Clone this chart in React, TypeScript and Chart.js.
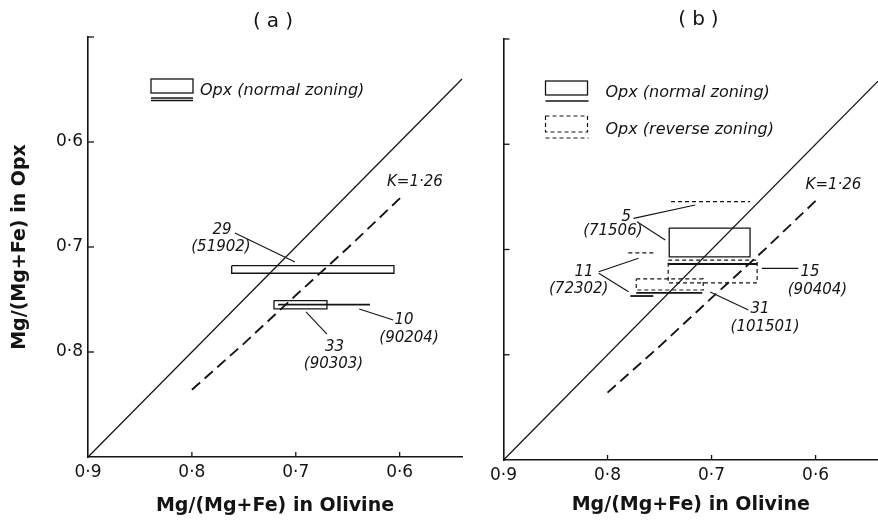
import React, { useEffect, useRef } from 'react';
import { Chart, registerables } from 'chart.js';

Chart.register(...registerables);

type P = [number, number];
type Box = [number, number, number, number]; // x1, x2, y1, y2
type Label = { text: string; x: number; y: number };

const INK = '#141414';
const FONT = '"DejaVu Sans", "Liberation Sans", sans-serif';

// ---- axes ----
const X_TICKS = [0.9, 0.8, 0.7, 0.6];
const X_TICK_LABELS = ['0·9', '0·8', '0·7', '0·6'];
const Y_TICKS = [0.6, 0.7, 0.8];
const Y_TICK_LABELS = ['0·6', '0·7', '0·8'];
const Y_TICK_MARKS = [0.5, 0.6, 0.7, 0.8];
const X_TITLE = 'Mg/(Mg+Fe) in Olivine';
const Y_TITLE = 'Mg/(Mg+Fe) in Opx';

// ---- reference lines ----
const ONE_TO_ONE: P[] = [[0.9, 0.9], [0.54, 0.54]];
const K_LINE: P[] = [[0.8, 0.836], [0.75, 0.792], [0.7, 0.746], [0.65, 0.701], [0.596, 0.65]];
const K_LABEL = 'K=1·26';

// ---- panel (a) ----
const A_NORMAL_BOXES: Box[] = [
  [0.7617, 0.6055, 0.7178, 0.725], // 29 (51902)
  [0.721, 0.67, 0.751, 0.759], // 33 (90303)
];
const A_NORMAL_LINES: Box[] = [
  [0.7171, 0.6286, 0.7548, 0.7548], // 10 (90204)
];
const A_LEADERS: [P, P][] = [
  [[0.7585, 0.6867], [0.7008, 0.7143]],
  [[0.6902, 0.7619], [0.67, 0.7829]],
  [[0.6389, 0.759], [0.6062, 0.7695]],
];
const A_LABELS: Label[] = [
  { text: '29', x: 0.771, y: 0.6838 },
  { text: '(51902)', x: 0.772, y: 0.7005 },
  { text: '10', x: 0.5959, y: 0.7695 },
  { text: '(90204)', x: 0.591, y: 0.7871 },
  { text: '33', x: 0.6628, y: 0.7957 },
  { text: '(90303)', x: 0.6637, y: 0.8119 },
  { text: K_LABEL, x: 0.5853, y: 0.6386 },
];

// ---- panel (b) ----
const B_NORMAL_BOXES: Box[] = [
  [0.7407, 0.663, 0.6796, 0.7071], // 5 (71506)
];
const B_REVERSE_BOXES: Box[] = [
  [0.7417, 0.6562, 0.71, 0.7318], // 15 (90404)
  [0.7724, 0.708, 0.728, 0.7385], // 31 (101501)
];
const B_NORMAL_LINES: Box[] = [
  [0.7417, 0.6562, 0.7138, 0.7138], // 15
  [0.7781, 0.756, 0.7442, 0.7442], // 11
  [0.7724, 0.709, 0.7413, 0.7413], // 31
];
const B_REVERSE_LINES: Box[] = [
  [0.739, 0.663, 0.6546, 0.6546], // 5
  [0.78, 0.7541, 0.7033, 0.7033], // 11
];
const B_LEADERS: [P, P][] = [
  [[0.775, 0.6704], [0.7157, 0.6577]],
  [[0.7717, 0.6736], [0.7445, 0.691]],
  [[0.8085, 0.7211], [0.7702, 0.7084]],
  [[0.8085, 0.7226], [0.7798, 0.7401]],
  [[0.6517, 0.7179], [0.6166, 0.7179]],
  [[0.7013, 0.7404], [0.6646, 0.7575]],
];
const B_LABELS: Label[] = [
  { text: '5', x: 0.7821, y: 0.6688 },
  { text: '(71506)', x: 0.7949, y: 0.6822 },
  { text: '11', x: 0.8226, y: 0.7218 },
  { text: '(72302)', x: 0.8277, y: 0.7377 },
  { text: '15', x: 0.6054, y: 0.7211 },
  { text: '(90404)', x: 0.5982, y: 0.7385 },
  { text: '31', x: 0.6534, y: 0.7565 },
  { text: '(101501)', x: 0.6486, y: 0.7733 },
  { text: K_LABEL, x: 0.5828, y: 0.6392 },
];

const LEGEND_NORMAL = 'Opx (normal zoning)';
const LEGEND_REVERSE = 'Opx (reverse zoning)';

type PanelSpec = {
  title: string;
  titleDx: number;
  titleY: number;
  normalBoxes: Box[];
  reverseBoxes: Box[];
  normalLines: Box[];
  reverseLines: Box[];
  leaders: [P, P][];
  labels: Label[];
  showYLabels: boolean;
  legendReverse: boolean;
  legendDoubleLine: boolean;
  legendX: number;
  legendTextX: number;
  padTop: number;
  padRight: number;
  yAxisWidth: number;
  xAxisHeight: number;
  xTitlePad: number;
};

const boxPts = (b: Box): P[] => [
  [b[0], b[2]], [b[1], b[2]], [b[1], b[3]], [b[0], b[3]], [b[0], b[2]],
];
const linePts = (b: Box): P[] => [[b[0], b[2]], [b[1], b[3]]];

const ds = (pts: P[], extra: any = {}) => ({
  data: pts.map(([x, y]) => ({ x, y })),
  showLine: true,
  pointRadius: 0,
  pointHoverRadius: 0,
  borderColor: INK,
  backgroundColor: INK,
  borderWidth: 1.2,
  fill: false,
  tension: 0,
  clip: false,
  ...extra,
});

function annotPlugin(p: PanelSpec) {
  return {
    id: 'annot',
    afterDraw(chart: any) {
      const { ctx, chartArea } = chart;
      const xs = chart.scales.x;
      const ys = chart.scales.y;
      const L = chartArea.left;
      const T = chartArea.top;
      ctx.save();
      ctx.strokeStyle = INK;
      ctx.fillStyle = INK;
      const seg = (x1: number, y1: number, x2: number, y2: number) => {
        ctx.beginPath();
        ctx.moveTo(x1, y1);
        ctx.lineTo(x2, y2);
        ctx.stroke();
      };
      // inside tick marks
      ctx.lineWidth = 1.3;
      X_TICKS.forEach((v) => {
        if (v === 0.9) return;
        const px = xs.getPixelForValue(v);
        seg(px, chartArea.bottom, px, chartArea.bottom - 5);
      });
      Y_TICK_MARKS.forEach((v) => {
        const py = ys.getPixelForValue(v);
        seg(L, py, L + 6, py);
      });
      // annotation labels
      ctx.font = `italic 15px ${FONT}`;
      ctx.textAlign = 'center';
      ctx.textBaseline = 'middle';
      p.labels.forEach((l) => {
        ctx.fillText(l.text, xs.getPixelForValue(l.x), ys.getPixelForValue(l.y));
      });
      // legend
      const lx = L + p.legendX;
      ctx.lineWidth = 1.3;
      ctx.setLineDash([]);
      ctx.strokeRect(lx, T + 42, 42, 14);
      if (p.legendDoubleLine) {
        seg(lx, T + 61, lx + 42, T + 61);
        seg(lx, T + 63.5, lx + 42, T + 63.5);
      } else {
        ctx.lineWidth = 1.6;
        seg(lx, T + 62, lx + 43, T + 62);
      }
      ctx.font = `italic 16px ${FONT}`;
      ctx.textAlign = 'left';
      ctx.fillText(LEGEND_NORMAL, L + p.legendTextX, T + 54);
      if (p.legendReverse) {
        ctx.lineWidth = 1.2;
        ctx.setLineDash([4, 3]);
        ctx.strokeRect(lx, T + 77, 42, 16);
        seg(lx, T + 99, lx + 43, T + 99);
        ctx.setLineDash([]);
        ctx.fillText(LEGEND_REVERSE, L + p.legendTextX, T + 91);
      }
      // panel title
      ctx.font = `20px ${FONT}`;
      ctx.textAlign = 'center';
      try { (ctx as any).letterSpacing = '6px'; } catch (e) { /* ignore */ }
      ctx.fillText(p.title, L + p.titleDx + 3, p.titleY);
      ctx.restore();
    },
  };
}

function buildConfig(p: PanelSpec): any {
  const datasets: any[] = [];
  datasets.push(ds(ONE_TO_ONE, { borderWidth: 1.25 }));
  datasets.push(ds(K_LINE, { borderWidth: 1.9, borderDash: [11, 6] }));
  p.normalBoxes.forEach((b) => datasets.push(ds(boxPts(b), { borderWidth: 1.3 })));
  p.reverseBoxes.forEach((b) => datasets.push(ds(boxPts(b), { borderWidth: 1.2, borderDash: [4, 3] })));
  p.normalLines.forEach((b) => datasets.push(ds(linePts(b), { borderWidth: 1.8 })));
  p.reverseLines.forEach((b) => datasets.push(ds(linePts(b), { borderWidth: 1.2, borderDash: [4, 3] })));
  p.leaders.forEach((l) => datasets.push(ds(l, { borderWidth: 1.1 })));

  const labelFor = (vals: number[], labels: string[]) => (v: any) => {
    const i = vals.findIndex((t) => Math.abs(t - Number(v)) < 1e-9);
    return i >= 0 ? labels[i] : '';
  };

  return {
    type: 'scatter',
    data: { datasets },
    options: {
      responsive: false,
      animation: false,
      events: [],
      layout: { padding: { top: p.padTop, left: 0, right: p.padRight, bottom: 0 } },
      plugins: { legend: { display: false }, tooltip: { enabled: false }, title: { display: false } },
      scales: {
        x: {
          type: 'linear',
          min: 0.54,
          max: 0.9,
          reverse: true,
          position: 'bottom',
          grid: { display: false, drawTicks: false },
          border: { display: true, color: INK, width: 1.6 },
          afterBuildTicks: (s: any) => { s.ticks = X_TICKS.map((v) => ({ value: v })); },
          afterFit: (s: any) => { s.height = p.xAxisHeight; },
          ticks: {
            autoSkip: false,
            maxRotation: 0,
            padding: 5,
            color: INK,
            font: { family: FONT, size: 17 },
            callback: labelFor(X_TICKS, X_TICK_LABELS),
          },
          title: {
            display: true,
            text: X_TITLE,
            color: INK,
            font: { family: FONT, size: 19, weight: 'bold' },
            padding: { top: 0, bottom: p.xTitlePad },
          },
        },
        y: {
          type: 'linear',
          min: 0.5,
          max: 0.9,
          reverse: true,
          position: 'left',
          grid: { display: false, drawTicks: false },
          border: { display: true, color: INK, width: 1.6 },
          afterBuildTicks: (s: any) => { s.ticks = Y_TICKS.map((v) => ({ value: v })); },
          afterFit: (s: any) => { s.width = p.yAxisWidth; },
          ticks: {
            display: p.showYLabels,
            autoSkip: false,
            padding: 5,
            color: INK,
            font: { family: FONT, size: 17 },
            callback: labelFor(Y_TICKS, Y_TICK_LABELS),
          },
          title: {
            display: p.showYLabels,
            text: Y_TITLE,
            color: INK,
            font: { family: FONT, size: 19, weight: 'bold' },
            padding: { top: 8.6, bottom: 0 },
          },
        },
      },
    },
    plugins: [annotPlugin(p)],
  };
}

const PANEL_A: PanelSpec = {
  title: '(a)',
  titleDx: 185,
  titleY: 22,
  normalBoxes: A_NORMAL_BOXES,
  reverseBoxes: [],
  normalLines: A_NORMAL_LINES,
  reverseLines: [],
  leaders: A_LEADERS,
  labels: A_LABELS,
  showYLabels: true,
  legendReverse: false,
  legendDoubleLine: true,
  legendX: 63,
  legendTextX: 112,
  padTop: 37,
  padRight: 23,
  yAxisWidth: 88,
  xAxisHeight: 68,
  xTitlePad: 7.6,
};

const PANEL_B: PanelSpec = {
  title: '(b)',
  titleDx: 195,
  titleY: 20,
  normalBoxes: B_NORMAL_BOXES,
  reverseBoxes: B_REVERSE_BOXES,
  normalLines: B_NORMAL_LINES,
  reverseLines: B_REVERSE_LINES,
  leaders: B_LEADERS,
  labels: B_LABELS,
  showYLabels: false,
  legendReverse: true,
  legendDoubleLine: false,
  legendX: 42,
  legendTextX: 102,
  padTop: 39,
  padRight: 0,
  yAxisWidth: 18,
  xAxisHeight: 65,
  xTitlePad: 8.6,
};

function Panel({ spec, left, width }: { spec: PanelSpec; left: number; width: number }) {
  const ref = useRef<HTMLCanvasElement>(null);
  useEffect(() => {
    if (!ref.current) return;
    const chart = new Chart(ref.current, buildConfig(spec));
    return () => chart.destroy();
  }, [spec]);
  return (
    <canvas
      ref={ref}
      width={width}
      height={525}
      style={{ position: 'absolute', left, top: 0, width, height: 525 }}
    />
  );
}

export default function App() {
  return (
    <div style={{ position: 'absolute', left: 0, top: 0, width: 878, height: 525, background: '#fff', overflow: 'hidden' }}>
      <Panel spec={PANEL_A} left={0} width={485} />
      <Panel spec={PANEL_B} left={485} width={393} />
    </div>
  );
}
